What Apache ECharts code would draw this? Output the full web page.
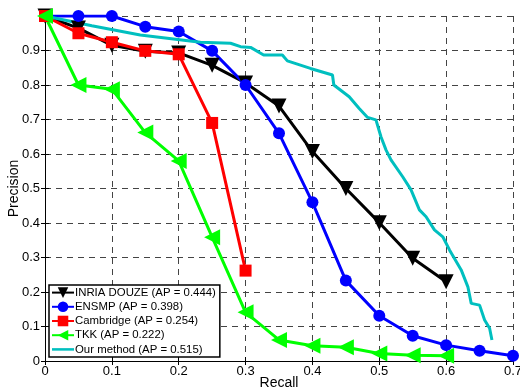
<!DOCTYPE html>
<html>
<head>
<meta charset="utf-8">
<title>Precision-Recall</title>
<script src="https://cdn.jsdelivr.net/npm/echarts@6/dist/echarts.min.js"></script>
</head>
<body style="margin:0;background:#fff;">
<div id="main" style="width:520px;height:389px;"></div>
<script type="text/javascript">
// recall sample points for the marked curves
var recall = [0, 0.05, 0.1, 0.15, 0.2, 0.25, 0.3, 0.35, 0.4, 0.45, 0.5, 0.55, 0.6, 0.65, 0.7];
var inria = [1.0, 0.965, 0.915, 0.898, 0.893, 0.857, 0.806, 0.739, 0.607, 0.50, 0.401, 0.298, 0.23];
var ensmp = [1.0, 1.0, 1.0, 0.969, 0.955, 0.899, 0.80, 0.66, 0.46, 0.233, 0.131, 0.073, 0.046, 0.03, 0.015];
var cambridge = [1.0, 0.95, 0.924, 0.899, 0.889, 0.69, 0.262];
var tkk = [1.0, 0.80, 0.788, 0.662, 0.58, 0.359, 0.141, 0.061, 0.044, 0.04, 0.022, 0.017, 0.015];
// our method, traced curve (recall, precision)
var oursRecall = [0, 0.07, 0.1425, 0.2325, 0.2775, 0.2925, 0.3075, 0.327, 0.355, 0.3625, 0.397, 0.43, 0.432, 0.455, 0.47, 0.4825, 0.495, 0.5025, 0.51, 0.5175, 0.535, 0.5475, 0.56, 0.57, 0.5825, 0.595, 0.605, 0.6225, 0.6325, 0.6375, 0.65, 0.6575, 0.665, 0.6685];
var oursPrec = [1.0, 0.972, 0.945, 0.924, 0.921, 0.911, 0.909, 0.887, 0.887, 0.87, 0.848, 0.829, 0.80, 0.766, 0.732, 0.706, 0.699, 0.65, 0.612, 0.583, 0.534, 0.496, 0.438, 0.418, 0.38, 0.36, 0.322, 0.264, 0.215, 0.167, 0.162, 0.119, 0.095, 0.061];
var names = ['INRIA DOUZE (AP = 0.444)', 'ENSMP (AP = 0.398)', 'Cambridge (AP = 0.254)', 'TKK (AP = 0.222)', 'Our method (AP = 0.515)'];

function pairs(xs, ys) {
    return ys.map(function (y, i) { return [xs[i], y]; });
}

var font = 'Arial, "Liberation Sans", sans-serif';
var gridLine = { show: true, lineStyle: { color: '#444', type: [6, 5], width: 1 } };

var chart = echarts.init(document.getElementById('main'));
chart.setOption({
    backgroundColor: '#ffffff',
    animation: false,
    grid: { left: 45, right: 7, top: 16, bottom: 28, outerBoundsMode: 'none', containLabel: false },
    legend: {
        orient: 'vertical',
        left: 49,
        top: 285,
        itemGap: 1,
        itemWidth: 22,
        itemHeight: 13.2,
        padding: [1, 4, 1, 2],
        borderColor: '#000',
        borderWidth: 1.5,
        backgroundColor: '#fff',
        textStyle: { fontFamily: font, fontSize: 11.4, lineHeight: 13.2, color: '#000', padding: [0, 0, 0, -4] },
        data: names.slice(0, 4).concat([{ name: names[4], icon: 'path://M0,0H26V3H0Z' }])
    },
    xAxis: [{
        type: 'value', min: 0, max: 0.7, interval: 0.1,
        name: 'Recall', nameLocation: 'middle', nameGap: 15, nameMoveOverlap: false,
        nameTextStyle: { fontFamily: font, fontSize: 14, color: '#000' },
        axisLine: { lineStyle: { color: '#000', width: 1 } },
        axisTick: { inside: true, length: 4, lineStyle: { color: '#000' } },
        axisLabel: { fontFamily: font, fontSize: 13, color: '#000', margin: 4 },
        splitLine: gridLine
    }, {
        type: 'value', min: 0, max: 0.7, interval: 0.1, position: 'top',
        axisLine: { show: true, lineStyle: { color: '#000', width: 1 } },
        axisTick: { inside: true, length: 4, lineStyle: { color: '#000' } },
        axisLabel: { show: false }, splitLine: { show: false }
    }],
    yAxis: [{
        type: 'value', min: 0, max: 1, interval: 0.1,
        name: 'Precision', nameLocation: 'middle', nameGap: 24, nameMoveOverlap: false,
        nameTextStyle: { fontFamily: font, fontSize: 14, color: '#000' },
        axisLine: { show: true, lineStyle: { color: '#000', width: 1 } },
        axisTick: { inside: true, length: 4, lineStyle: { color: '#000' } },
        axisLabel: {
            fontFamily: font, fontSize: 13, color: '#000', margin: 5,
            formatter: function (v) { return v >= 1 ? '' : String(Math.round(v * 10) / 10); }
        },
        splitLine: gridLine
    }, {
        type: 'value', min: 0, max: 1, interval: 0.1, position: 'right',
        axisLine: { show: true, lineStyle: { color: '#000', width: 1 } },
        axisTick: { inside: true, length: 4, lineStyle: { color: '#000' } },
        axisLabel: { show: false }, splitLine: { show: false }
    }],
    series: [{
        name: names[0], type: 'line', data: pairs(recall, inria),
        symbol: 'triangle', symbolRotate: 180, symbolSize: 15,
        lineStyle: { color: '#000', width: 3 }, itemStyle: { color: '#000' }
    }, {
        name: names[1], type: 'line', data: pairs(recall, ensmp),
        symbol: 'circle', symbolSize: 12,
        lineStyle: { color: '#0000ff', width: 3 }, itemStyle: { color: '#0000ff' }
    }, {
        name: names[2], type: 'line', data: pairs(recall, cambridge),
        symbol: 'rect', symbolSize: 12,
        lineStyle: { color: '#ff0000', width: 3 }, itemStyle: { color: '#ff0000' }
    }, {
        name: names[3], type: 'line', data: pairs(recall, tkk),
        symbol: 'triangle', symbolRotate: 90, symbolSize: 16,
        lineStyle: { color: '#00ff00', width: 3 }, itemStyle: { color: '#00ff00' }
    }, {
        name: names[4], type: 'line', data: pairs(oursRecall, oursPrec),
        symbol: 'none', symbolKeepAspect: true,
        lineStyle: { color: '#00bfbf', width: 3 }, itemStyle: { color: '#00bfbf' }
    }]
});
</script>
</body>
</html>
